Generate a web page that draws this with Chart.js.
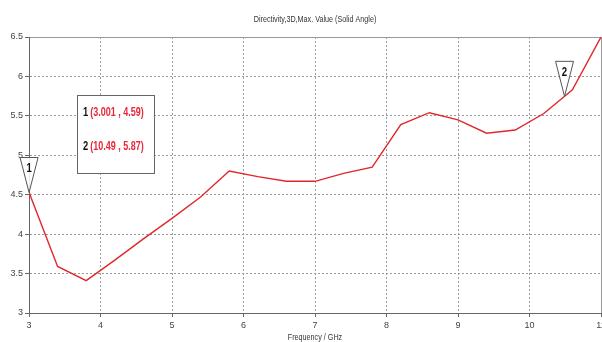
<!DOCTYPE html>
<html>
<head>
<meta charset="utf-8">
<script src="https://cdn.jsdelivr.net/npm/chart.js@4"></script>
<style>
  html,body{margin:0;padding:0;background:#fff;}
  #wrap{width:602px;height:342px;position:relative;}
</style>
</head>
<body>
<div id="wrap"><canvas id="c"></canvas></div>
<script>
// ====== DATA ======
const FREQ = [3, 3.4, 3.8, 4.2, 4.6, 5.0, 5.4, 5.8, 6.2, 6.6, 7.0, 7.4, 7.8, 8.2, 8.6, 9.0, 9.4, 9.8, 10.2, 10.6, 11];
const DIRECTIVITY = [4.53, 3.59, 3.41, 3.67, 3.94, 4.2, 4.47, 4.8, 4.73, 4.67, 4.67, 4.77, 4.85, 5.39, 5.54, 5.45, 5.28, 5.32, 5.53, 5.83, 6.5];
const MARKER_IDS = ['1', '2'];
const MARKER_X = [3.001, 10.49];
const MARKER_Y = [4.59, 5.87];
const X_TICKS = [3, 4, 5, 6, 7, 8, 9, 10, 11];
const Y_TICKS = [3, 3.5, 4, 4.5, 5, 5.5, 6, 6.5];
const TITLE = 'Directivity,3D,Max. Value (Solid Angle)';
const X_TITLE = 'Frequency / GHz';

const FONT = '"Liberation Sans", Arial, sans-serif';

// line value at a given x (used to put the marker tip on the curve)
function curveAt(x){
  for(let i=0;i<FREQ.length-1;i++){
    if(x>=FREQ[i] && x<=FREQ[i+1]){
      const t=(x-FREQ[i])/(FREQ[i+1]-FREQ[i]);
      return DIRECTIVITY[i]+t*(DIRECTIVITY[i+1]-DIRECTIVITY[i]);
    }
  }
  return DIRECTIVITY[DIRECTIVITY.length-1];
}

// condensed text: the original uses a narrow face we don't have
function narrowText(ctx, txt, x, y, sx, align){
  ctx.save();
  ctx.translate(x, y); ctx.scale(sx, 1);
  ctx.textAlign = align || 'left'; ctx.textBaseline = 'middle';
  ctx.fillText(txt, 0, 0);
  ctx.restore();
  return ctx.measureText(txt).width * sx;
}

// ====== TITLES, MARKERS, READOUT BOX ======
const markerPlugin = {
  id:'markers',
  afterDraw(chart){
    const ctx=chart.ctx, xs=chart.scales.x, ys=chart.scales.y, a=chart.chartArea;
    ctx.save();
    const cx=(a.left+a.right)/2;
    ctx.fillStyle='#333'; ctx.font='9px '+FONT;
    narrowText(ctx, TITLE, cx, 20, 0.8, 'center');
    narrowText(ctx, X_TITLE, cx, 338, 0.8, 'center');

    // triangles
    MARKER_X.forEach((mx,i)=>{
      const px=xs.getPixelForValue(mx), py=ys.getPixelForValue(curveAt(mx));
      const top=py-35;
      ctx.beginPath();
      ctx.moveTo(px-9,top); ctx.lineTo(px+9,top); ctx.lineTo(px,py); ctx.closePath();
      ctx.fillStyle='rgba(255,255,255,0.85)'; ctx.fill();
      ctx.strokeStyle='#555'; ctx.lineWidth=1; ctx.stroke();
      ctx.fillStyle='#111'; ctx.font='bold 12px '+FONT;
      narrowText(ctx, MARKER_IDS[i], px, top+11, 0.8, 'center');
    });
    // readout box
    const bx=77, by=95, bw=77, bh=78;
    ctx.fillStyle='#fff'; ctx.fillRect(bx,by,bw,bh);
    ctx.strokeStyle='#666'; ctx.lineWidth=1; ctx.strokeRect(bx+0.5,by+0.5,bw,bh);
    ctx.font='bold 12px '+FONT;
    MARKER_IDS.forEach((id,i)=>{
      const ty=by+18+i*34;
      ctx.fillStyle='#111';
      const w=narrowText(ctx, id, bx+6, ty, 0.78);
      ctx.fillStyle='#e8283a';
      narrowText(ctx, '('+MARKER_X[i]+' , '+MARKER_Y[i]+')', bx+8+w, ty, 0.75);
    });
    ctx.restore();
  }
};

// ====== CHART ======
const dashFn = (max) => (c) => (c.tick && c.tick.value===max) ? [] : [2,2];

new Chart(document.getElementById('c'), {
  type:'line',
  data:{
    datasets:[{
      data: FREQ.map((f,i)=>({x:f, y:DIRECTIVITY[i]})),
      borderColor:'#e0272b', borderWidth:1.4, pointRadius:0, tension:0, fill:false
    }]
  },
  options:{
    responsive:true, maintainAspectRatio:false, animation:false,
    layout:{padding:{left:0,right:1,top:37,bottom:0}},
    plugins:{ legend:{display:false}, tooltip:{enabled:false}, title:{display:false} },
    scales:{
      x:{
        type:'linear', min:3, max:11,
        afterBuildTicks(s){ s.ticks = X_TICKS.map(v=>({value:v})); },
        afterFit(s){ s.height = 29; s.paddingLeft = 0; s.paddingRight = 0; },
        ticks:{color:'#444', font:{family:FONT,size:9}, padding:3, maxRotation:0, callback:v=>String(v)},
        grid:{color:'#9a9a9a', tickLength:4, tickColor:'#666', lineWidth:1},
        border:{color:'#666', width:1, dash:dashFn(11)}
      },
      y:{
        type:'linear', min:3, max:6.5,
        afterBuildTicks(s){ s.ticks = Y_TICKS.map(v=>({value:v})); },
        afterFit(s){ s.width = 29; s.paddingTop = 0; s.paddingBottom = 0; },
        ticks:{color:'#444', font:{family:FONT,size:9}, padding:2, callback:v=>String(v)},
        grid:{color:'#9a9a9a', tickLength:4, tickColor:'#666', lineWidth:1},
        border:{color:'#666', width:1, dash:dashFn(6.5)}
      }
    }
  },
  plugins:[markerPlugin]
});
</script>
</body>
</html>
